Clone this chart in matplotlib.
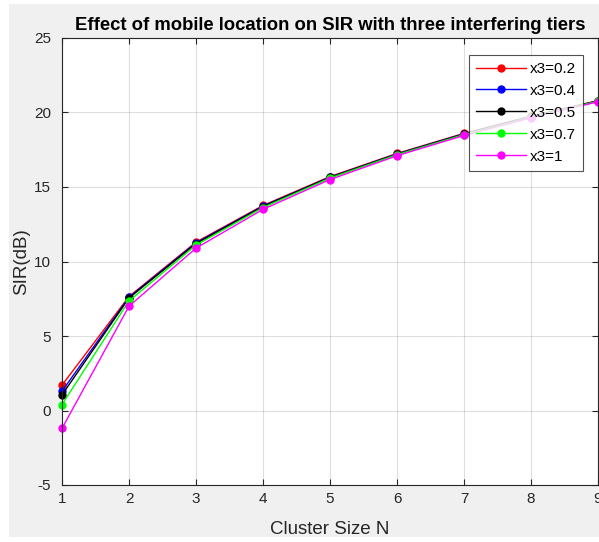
import matplotlib.pyplot as plt
from matplotlib.patches import Rectangle

# cluster sizes and SIR (dB)
N = [1, 2, 3, 4, 5, 6, 7, 8, 9]
sir_02 = [1.70, 7.65, 11.30, 13.76, 15.70, 17.25, 18.60, 19.75, 20.80]
sir_04 = [1.30, 7.60, 11.25, 13.72, 15.66, 17.22, 18.57, 19.73, 20.78]
sir_05 = [1.05, 7.55, 11.20, 13.69, 15.64, 17.20, 18.55, 19.72, 20.77]
sir_07 = [0.40, 7.35, 11.10, 13.62, 15.60, 17.17, 18.52, 19.70, 20.76]
sir_1 = [-1.20, 7.00, 10.90, 13.50, 15.50, 17.10, 18.46, 19.65, 20.72]

labels = ["x3=0.2", "x3=0.4", "x3=0.5", "x3=0.7", "x3=1"]
colors = ["#ff0000", "#0000ff", "#000000", "#00ff00", "#ff00ff"]

plt.rcParams['font.family'] = ['Liberation Sans', 'DejaVu Sans']
plt.rcParams['axes.unicode_minus'] = False

W, H = 599, 542
fig = plt.figure(figsize=(W / 100, H / 100), dpi=100, facecolor="white")
# grey MATLAB-like figure background with a thin white margin
fig.patches.append(Rectangle((9 / W, (H - 537) / H), 1, (537 - 4) / H,
                             transform=fig.transFigure, facecolor="#f0f0f0",
                             edgecolor="none", zorder=-10))

ax = fig.add_axes([62 / W, (H - 485) / H, (598 - 62) / W, (485 - 38) / H])
ax.set_facecolor("white")

for y, lab, c in zip([sir_02, sir_04, sir_05, sir_07, sir_1], labels, colors):
    ax.plot(N, y, "-o", color=c, label=lab, linewidth=1, markersize=5,
            clip_on=False)

ax.set_xlim(1, 9)
ax.set_ylim(-5, 25)
ax.set_xticks(range(1, 10))
ax.set_yticks(range(-5, 26, 5))
ax.grid(True, color="#262626", alpha=0.15, linewidth=0.8)
ax.tick_params(direction="in", top=True, right=True, length=4,
               colors="#262626", labelsize=11, labelcolor="#262626")
ax.tick_params(axis="x", pad=5)
ax.tick_params(axis="y", pad=8)
for s in ax.spines.values():
    s.set_color("#262626")
    s.set_linewidth(0.8)

ax.set_title("Effect of mobile location on SIR with three interfering tiers",
             fontsize=13.3, fontweight="bold", color="black", pad=6)
ax.set_xlabel("Cluster Size N", fontsize=13.5, color="#262626", labelpad=11)
ax.set_ylabel("SIR(dB)", fontsize=13.5, color="#262626", labelpad=3)

leg = ax.legend(loc="upper right", bbox_to_anchor=(0.972, 0.962),
                borderaxespad=0, fontsize=11, frameon=True, fancybox=False,
                handlelength=3.3, borderpad=0.45, labelspacing=0.52,
                handletextpad=0.25)
leg.get_frame().set_edgecolor("#262626")
leg.get_frame().set_linewidth(0.8)

fig.savefig("out.png", dpi=100, facecolor=fig.get_facecolor())
